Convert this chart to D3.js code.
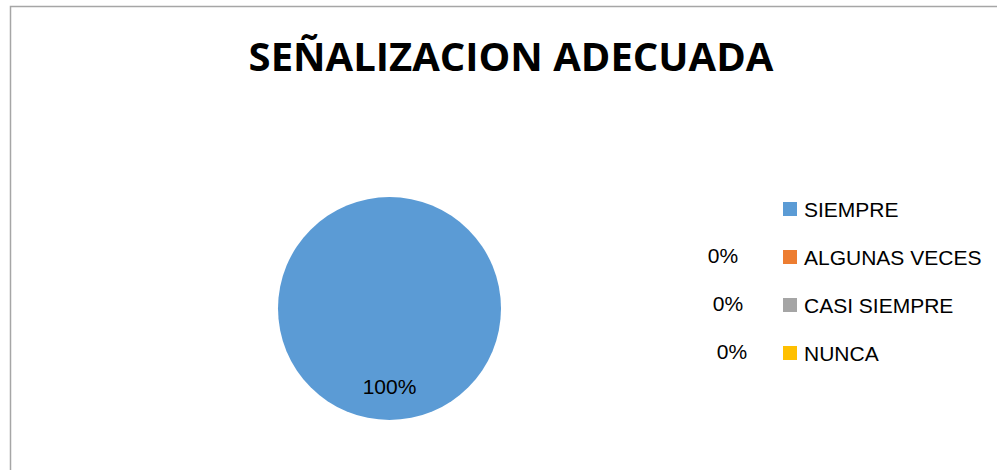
<!DOCTYPE html>
<html>
<head>
<meta charset="utf-8">
<script src="https://cdn.jsdelivr.net/npm/d3@7"></script>
<style>
  body { margin: 0; background: #fff; }
  text { font-family: "Liberation Sans", Arial, sans-serif; }
  text.title { font-family: "Open Sans", sans-serif; }
</style>
</head>
<body>
<div id="chart"></div>
<script>
var title = "SEÑALIZACION ADECUADA";
var categories = ["SIEMPRE", "ALGUNAS VECES", "CASI SIEMPRE", "NUNCA"];
var values = [100, 0, 0, 0];
var labels = ["100%", "0%", "0%", "0%"];
var colors = ["#5B9BD5", "#ED7D31", "#A5A5A5", "#FFC000"];

var width = 997,
  height = 470;

var svg = d3
  .select("#chart")
  .append("svg")
  .attr("width", width)
  .attr("height", height);

// chart area border
svg
  .append("rect")
  .attr("x", 10.5)
  .attr("y", 6.5)
  .attr("width", 1000)
  .attr("height", 500)
  .style("fill", "#fff")
  .style("stroke", "#A6A6A6")
  .style("stroke-width", 1.5);

svg
  .append("text")
  .attr("class", "title")
  .attr("x", 511)
  .attr("y", 71)
  .attr("text-anchor", "middle")
  .style("font-size", "40px")
  .style("font-weight", "bold")
  .text(title);

// pie
var cx = 389.5,
  cy = 308.5,
  radius = 111.5;

var pie = d3.pie().sort(null).value(function (d) {
  return d;
});
var arcs = pie(values);
var arc = d3.arc().innerRadius(0).outerRadius(radius);
var labelArc = d3.arc().innerRadius(radius * 0.7).outerRadius(radius * 0.7);

var g = svg.append("g").attr("transform", "translate(" + cx + "," + cy + ")");

g.selectAll("path")
  .data(arcs)
  .enter()
  .append("path")
  .attr("d", arc)
  .style("fill", function (d, i) {
    return colors[i];
  });

// big slice label
g.selectAll("text.big")
  .data(arcs.filter(function (d) {
    return d.value > 0;
  }))
  .enter()
  .append("text")
  .attr("class", "big")
  .attr("transform", function (d) {
    return "translate(" + labelArc.centroid(d) + ")";
  })
  .attr("text-anchor", "middle")
  .attr("dy", "0.36em")
  .style("font-size", "21px")
  .style("fill", "#000")
  .text(function (d) {
    return labels[d.index];
  });

// legend
var legX = 783,
  legY = 209,
  legStep = 48;
var legend = svg
  .selectAll("g.leg")
  .data(categories)
  .enter()
  .append("g")
  .attr("class", "leg")
  .attr("transform", function (d, i) {
    return "translate(" + legX + "," + (legY + i * legStep) + ")";
  });

legend
  .append("rect")
  .attr("x", 0)
  .attr("y", -7)
  .attr("width", 14)
  .attr("height", 14)
  .style("fill", function (d, i) {
    return colors[i];
  });

legend
  .append("text")
  .attr("x", 21)
  .attr("dy", "0.36em")
  .style("font-size", "21px")
  .style("fill", "#000")
  .text(function (d) {
    return d;
  });

// zero labels (Excel piles them up beside the legend)
var zeroOffsets = [0, -60, -55, -51];
legend
  .filter(function (d, i) {
    return values[i] === 0;
  })
  .append("text")
  .attr("x", function (d) {
    return zeroOffsets[categories.indexOf(d)];
  })
  .attr("y", -2)
  .attr("dy", "0.36em")
  .attr("text-anchor", "middle")
  .style("font-size", "21px")
  .style("fill", "#000")
  .text(function (d) {
    return labels[categories.indexOf(d)];
  });
</script>
</body>
</html>
